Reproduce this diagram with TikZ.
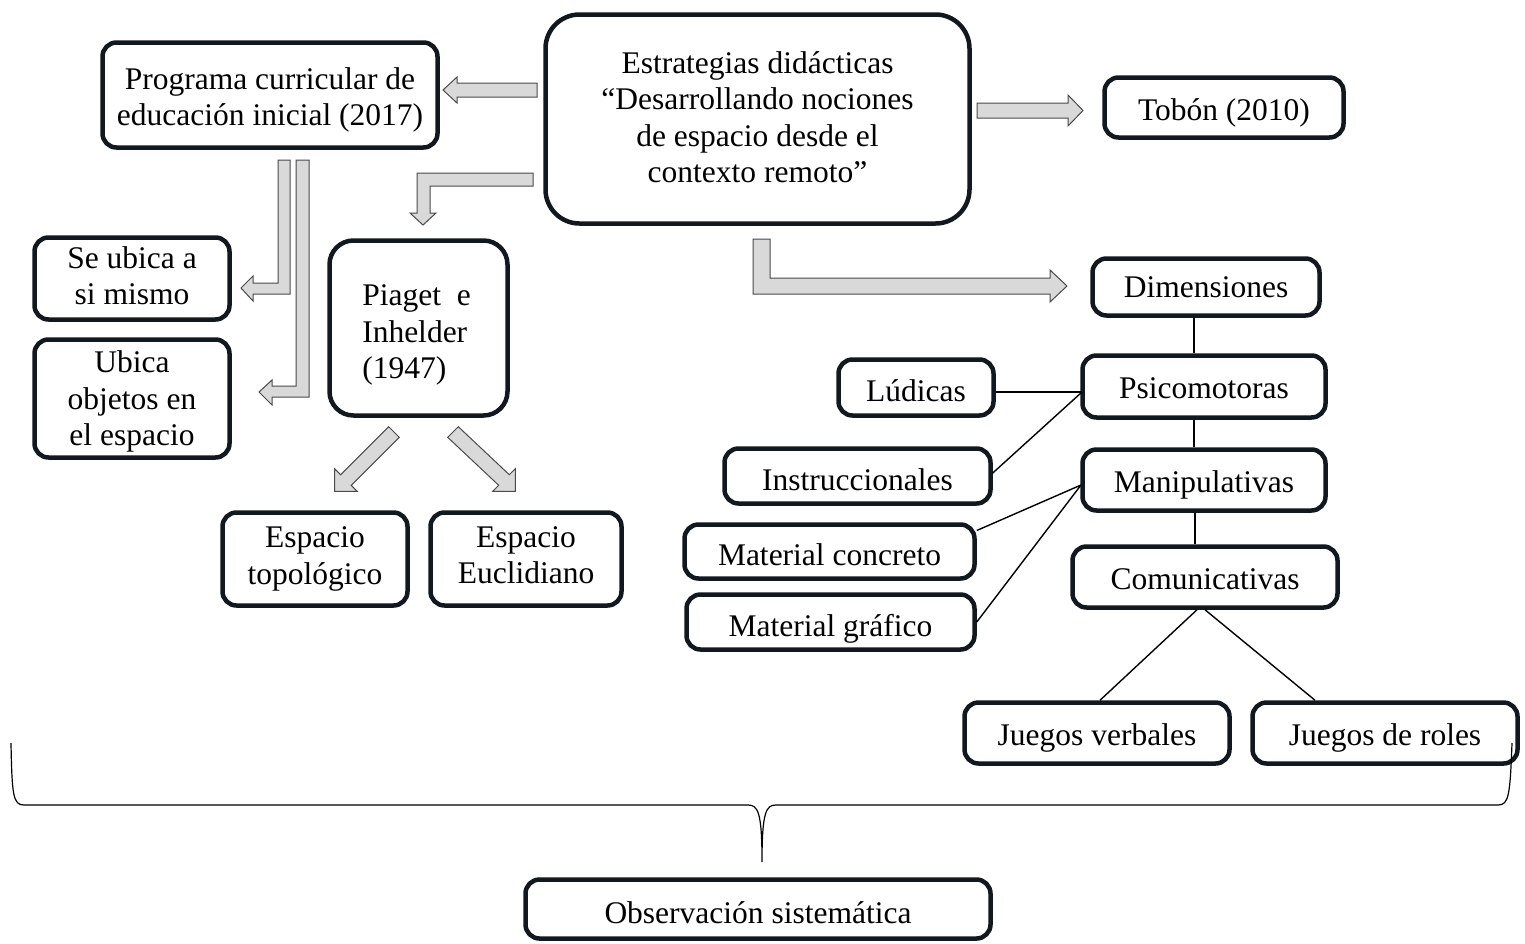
\documentclass[tikz,border=0pt]{standalone}
\usepackage{fontspec}
\setmainfont{Liberation Serif}
\definecolor{boxc}{HTML}{111820}
\definecolor{arrfill}{HTML}{D9D9D9}
\definecolor{arrline}{HTML}{4A4A4A}
\tikzset{
  box/.style={draw=boxc, line width=4.5pt, rounded corners=14pt, inner sep=0pt},
  txt/.style={inner sep=0pt, align=center, font=\fontsize{31.5}{36.5}\selectfont},
  blockarrow/.style={fill=arrfill, draw=arrline, line width=1pt, line join=miter},
  link/.style={draw=black, line width=1.4pt},
  bracel/.style={draw=black, line width=1.2pt}
}
\begin{document}
\begin{tikzpicture}[x=1pt,y=-1pt]
\useasboundingbox (0,0) rectangle (1525,943);
% boxes
\node[box, minimum width=335pt, minimum height=105pt] (prog) at (270,95) {};
\node[txt] (progt) at (270,100) {Programa curricular de\\educación inicial (2017)};
\node[box, rounded corners=34pt, minimum width=424pt, minimum height=209pt] (estr) at (757.5,119) {};
\node[txt] (estrt) at (757.5,117) {Estrategias didácticas\\“Desarrollando nociones\\de espacio desde el\\contexto remoto”};
\node[box, minimum width=239pt, minimum height=60pt] (tob) at (1224,107.5) {};
\node[txt] (tobt) at (1224,113) {Tobón (2010)};
\node[box, minimum width=195pt, minimum height=82pt] (seub) at (132,278.5) {};
\node[txt] (seubt) at (132,275.5) {Se ubica a\\si mismo};
\node[box, minimum width=195pt, minimum height=118pt] (ubob) at (132,398.5) {};
\node[txt] (ubobt) at (132,401.5) {Ubica\\objetos en\\el espacio};
\node[box, rounded corners=24pt, minimum width=178pt, minimum height=175pt] (piag) at (418.5,328) {};
\node[txt, align=left] (piagt) at (416.5,335) {Piaget~ e\\Inhelder\\(1947)};
\node[box, minimum width=185pt, minimum height=93pt] (top) at (315,559) {};
\node[txt] (topt) at (315,559) {Espacio\\topológico};
\node[box, minimum width=191pt, minimum height=93pt] (euc) at (526,559) {};
\node[txt] (euct) at (526,555) {Espacio\\Euclidiano};
\node[box, minimum width=227pt, minimum height=57pt] (dim) at (1206,287) {};
\node[txt] (dimt) at (1206,287) {Dimensiones};
\node[box, minimum width=243pt, minimum height=62pt] (psi) at (1204,386.5) {};
\node[txt] (psit) at (1204,388.5) {Psicomotoras};
\node[box, minimum width=155pt, minimum height=56pt] (lud) at (916,387.5) {};
\node[txt] (ludt) at (916,390.5) {Lúdicas};
\node[box, minimum width=266pt, minimum height=55pt] (ins) at (857.5,476) {};
\node[txt] (inst) at (857.5,480) {Instruccionales};
\node[box, minimum width=243pt, minimum height=61pt] (man) at (1204,480) {};
\node[txt] (mant) at (1204,485) {Manipulativas};
\node[box, minimum width=290pt, minimum height=54pt] (mc) at (829.5,551.5) {};
\node[txt] (mct) at (829.5,554.5) {Material concreto};
\node[box, minimum width=265pt, minimum height=61pt] (com) at (1205,577) {};
\node[txt] (comt) at (1205,579) {Comunicativas};
\node[box, minimum width=288pt, minimum height=55pt] (mg) at (830.5,622) {};
\node[txt] (mgt) at (830.5,629) {Material gráfico};
\node[box, minimum width=265pt, minimum height=61pt] (jv) at (1097,733) {};
\node[txt] (jvt) at (1097,738) {Juegos verbales};
\node[box, minimum width=265pt, minimum height=61pt] (jr) at (1385,733) {};
\node[txt] (jrt) at (1385,738) {Juegos de roles};
\node[box, minimum width=465pt, minimum height=59pt] (obs) at (758,909) {};
\node[txt] (obst) at (758,913) {Observación sistemática};
% thin connectors
\coordinate (pL) at (1082,392);
\coordinate (pM) at (1081,485);
\draw[link] (1194,0 |- dim.south) -- (1194,0 |- psi.north);
\draw[link] (1194,0 |- psi.south) -- (1194,0 |- man.north);
\draw[link] (1195,0 |- man.south) -- (1195,0 |- com.north);
\draw[link] (lud.east |- pL) -- (pL);
\draw[link] ([yshift=3pt]ins.east) -- (pL);
\draw[link] ([yshift=21pt]mc.east) -- (pM);
\draw[link] (mg.east) -- (pM);
\draw[link] ([xshift=-8pt]com.south) -- ([xshift=3pt]jv.north);
\draw[link] (com.south) -- ([xshift=-70pt]jr.north);
% block arrows
\draw[blockarrow] (537,83) -- (457,83) -- (457,77) -- (443,90) -- (457,103) -- (457,97) -- (537,97) -- cycle;
\draw[blockarrow] (533,173) -- (417,173) -- (417,213) -- (410,213) -- (423,225) -- (436,213) -- (430,213) -- (430,186) -- (533,186) -- cycle;
\draw[blockarrow] (278,160) -- (290,160) -- (290,294) -- (253,294) -- (253,301) -- (241,288) -- (253,276) -- (253,283) -- (278,283) -- cycle;
\draw[blockarrow] (296,160) -- (309,160) -- (309,397) -- (272,397) -- (272,405) -- (259,392) -- (272,380) -- (272,386) -- (296,386) -- cycle;
\draw[blockarrow] (388.7,426.7) -- (399.3,437.3) -- (351.2,485.4) -- (357.2,491.4) -- (334.6,491.4) -- (334.6,468.8) -- (340.6,474.8) -- cycle;
\draw[blockarrow] (458.3,426.7) -- (509.3,474.7) -- (515.3,468.7) -- (515.3,491.3) -- (492.7,491.3) -- (498.7,485.3) -- (447.7,437.3) -- cycle;
\draw[blockarrow] (977,103) -- (1068,103) -- (1068,95) -- (1083,110.5) -- (1068,126) -- (1068,118) -- (977,118) -- cycle;
\draw[blockarrow] (753,239) -- (770,239) -- (770,278) -- (1050,278) -- (1050,270) -- (1067,286) -- (1050,302) -- (1050,294) -- (753,294) -- cycle;
% brace
\draw[bracel] (11,743) .. controls (12,795) and (13,805) .. (24,805) -- (748,805)
  .. controls (758,805) and (762,812) .. (762,862)
  .. controls (762,812) and (766,805) .. (776,805) -- (1498,805)
  .. controls (1509,805) and (1510,795) .. (1512,743);
\end{tikzpicture}
\end{document}
